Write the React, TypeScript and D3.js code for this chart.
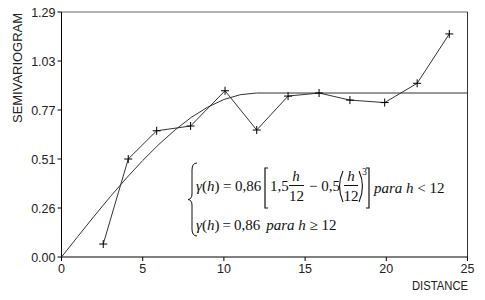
import React from "react";
import * as d3 from "d3";

const xTicks = [0, 5, 10, 15, 20, 25];
const yTickLabels = ["0.00", "0.26", "0.51", "0.77", "1.03", "1.29"];
const yMax = 1.285;
const expDist = [2.57, 4.11, 5.86, 7.95, 10.07, 12.02, 13.95, 15.86, 17.76, 19.9, 21.9, 23.88];
const expGamma = [0.068, 0.514, 0.662, 0.687, 0.872, 0.666, 0.844, 0.86, 0.823, 0.81, 0.911, 1.17];
const modelDist = [0, 1, 2, 3, 4, 5, 6, 7, 8, 9, 10, 11, 12, 25];
const modelGamma = [0, 0.107, 0.213, 0.316, 0.414, 0.506, 0.591, 0.667, 0.733, 0.786, 0.826, 0.851, 0.86, 0.86];

const W = 485, H = 300;
const L = 61.5, R = 467.5, T = 12, B = 257;

export default function App() {
  const x = d3.scaleLinear().domain([0, 25]).range([L, R]);
  const y = d3.scaleLinear().domain([0, yMax]).range([B, T]);
  const line = d3.line<[number, number]>().x(d => x(d[0])).y(d => y(d[1]));
  const expPts: [number, number][] = expDist.map((d, i) => [d, expGamma[i]]);
  const modPts: [number, number][] = modelDist.map((d, i) => [d, modelGamma[i]]);
  const sans = "Liberation Sans, Arial, sans-serif";
  const serif = "Liberation Serif, Times New Roman, serif";
  const fs = 15;
  return (
    <svg width={W} height={H} style={{ position: "absolute", left: 0, top: 0 }} fontFamily={sans}>
      <rect x={0} y={0} width={W} height={H} fill="#fff" />
      {/* frame */}
      <line x1={L} x2={R} y1={T} y2={T} stroke="#666" strokeWidth={1} />
      <line x1={R} x2={R} y1={T} y2={B} stroke="#333" strokeWidth={1} />
      {/* axes */}
      <line x1={L} x2={L} y1={T} y2={B} stroke="#000" strokeWidth={1} />
      <line x1={L} x2={R} y1={B} y2={B} stroke="#000" strokeWidth={1} />
      {yTickLabels.map((lab, i) => {
        const v = (i * yMax) / 5;
        return (
          <g key={lab}>
            <line x1={L - 4} x2={L} y1={y(v)} y2={y(v)} stroke="#000" />
            <text x={L - 6} y={y(v) + 4.5} fontSize={12.5} textAnchor="end" fill="#222">{lab}</text>
          </g>
        );
      })}
      {xTicks.map(t => (
        <g key={t}>
          <line x1={x(t)} x2={x(t)} y1={B} y2={B + 4} stroke="#000" />
          <text x={x(t)} y={B + 16} fontSize={12.5} textAnchor="middle" fill="#222">{t}</text>
        </g>
      ))}
      <text x={468} y={290} fontSize={12} textAnchor="end" textLength={56} lengthAdjust="spacingAndGlyphs" fill="#222">DISTANCE</text>
      <text transform="translate(21.5,68) rotate(-90)" fontSize={12} textAnchor="middle" textLength={110} lengthAdjust="spacingAndGlyphs" fill="#222">SEMIVARIOGRAM</text>

      {/* model */}
      <path d={line(modPts) || ""} fill="none" stroke="#333" strokeWidth={1} />
      {/* experimental */}
      <path d={line(expPts) || ""} fill="none" stroke="#333" strokeWidth={1} />
      {expPts.map((p, i) => (
        <g key={i} stroke="#000" strokeWidth={1}>
          <line x1={x(p[0]) - 4} x2={x(p[0]) + 4} y1={y(p[1])} y2={y(p[1])} />
          <line x1={x(p[0])} x2={x(p[0])} y1={y(p[1]) - 4} y2={y(p[1]) + 4} />
        </g>
      ))}

      {/* equation */}
      <g fontFamily={serif} fill="#111" fontSize={fs}>
        <path d="M197,163 Q192,163 192,170 L192,194 Q192,199 188,199.5 Q192,200 192,205 L192,229 Q192,236 197,236" fill="none" stroke="#111" strokeWidth={1} />
        <text x={196} y={191}><tspan fontStyle="italic">γ</tspan>(<tspan fontStyle="italic">h</tspan>)<tspan dx={3.5}>=</tspan><tspan dx={3.5}>0,86</tspan></text>
        <path d="M268,168 L265,168 L265,208 L268,208" fill="none" stroke="#111" strokeWidth={1.2} />
        <text x={270} y={191}>1,5</text>
        <text x={296} y={181} textAnchor="middle" fontStyle="italic">h</text>
        <line x1={289} x2={304} y1={185.5} y2={185.5} stroke="#111" strokeWidth={1} />
        <text x={296.5} y={201} textAnchor="middle">12</text>
        <text x={309} y={191}>− 0,5</text>
        <path d="M343,171 Q336,186 343,202" fill="none" stroke="#111" strokeWidth={1.1} />
        <text x={351} y={181} textAnchor="middle" fontStyle="italic">h</text>
        <line x1={344} x2={358} y1={185.5} y2={185.5} stroke="#111" strokeWidth={1} />
        <text x={351} y={201} textAnchor="middle">12</text>
        <path d="M359,171 Q366,186 359,202" fill="none" stroke="#111" strokeWidth={1.1} />
        <text x={362} y={175} fontSize={10}>3</text>
        <path d="M366,168 L369,168 L369,208 L366,208" fill="none" stroke="#111" strokeWidth={1.2} />
        <text x={374} y={193}><tspan fontStyle="italic">para h</tspan> &lt; 12</text>
        <text x={196} y={230}><tspan fontStyle="italic">γ</tspan>(<tspan fontStyle="italic">h</tspan>)<tspan dx={3}>=</tspan><tspan dx={3}>0,86</tspan><tspan fontStyle="italic" dx={6}>para h</tspan> ≥ 12</text>
      </g>
    </svg>
  );
}
